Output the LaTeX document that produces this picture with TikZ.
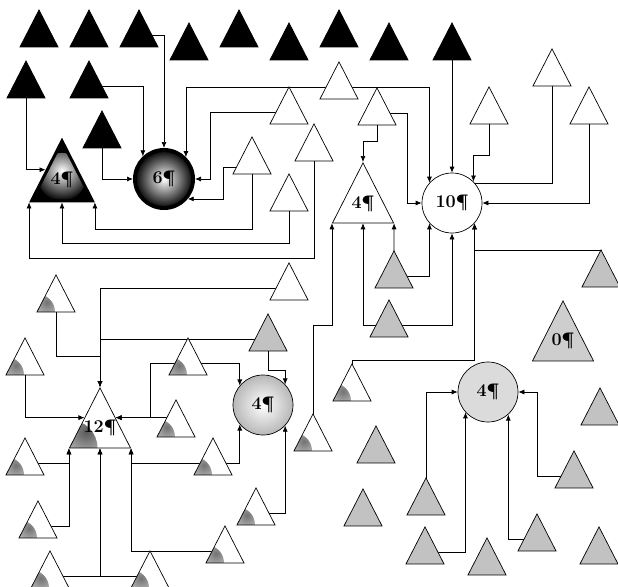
\documentclass[tikz,border=0pt]{standalone}
\definecolor{ScanGray}{gray}{0.76}
\definecolor{PaleGray}{gray}{0.86}
\usetikzlibrary{arrows.meta,shapes.geometric,backgrounds}

\begin{document}
\begin{tikzpicture}[x=1pt,y=-1pt,
  tri/.style={isosceles triangle,isosceles triangle stretches,
              shape border rotate=90,minimum width=38pt,minimum height=37pt,
              inner sep=0pt,anchor=apex,draw=black,line width=0.7pt},
  blk/.style={tri,fill=black},
  wht/.style={tri,fill=white},
  gry/.style={tri,fill=ScanGray},
  shd/.style={tri,fill=white,path picture={\shade[inner color=black!55,
              outer color=white](path picture bounding box.south west)
              circle (18pt);}},
  big/.style={minimum width=61pt,minimum height=60pt,
              font=\bfseries\fontsize{18pt}{18pt}\selectfont},
  ring/.style={circle,draw=black,line width=0.7pt,minimum size=60pt,
               inner sep=0pt,font=\bfseries\fontsize{18pt}{18pt}\selectfont},
  link/.style={-{Latex[length=6pt,width=5pt]},line width=0.7pt}]
  \useasboundingbox (0,0) rectangle (618,586);

  \node[blk] (b1) at (39,9) {};
  \node[blk] (b2) at (89,9) {};
  \node[blk] (b3) at (139,9) {};
  \node[blk] (b4) at (189,22) {};
  \node[blk] (b5) at (239,9) {};
  \node[blk] (b6) at (289,22) {};
  \node[blk] (b7) at (339,9) {};
  \node[blk] (b8) at (389,22) {};
  \node[blk] (b9) at (452,22) {};
  \node[blk] (b10) at (26,60) {};
  \node[blk] (b11) at (89,60) {};
  \node[blk] (b12) at (102,110) {};

  \node[wht] (w1) at (339,61) {};
  \node[wht] (w2) at (289,86) {};
  \node[wht] (w3) at (377,87) {};
  \node[wht] (w4) at (314,123) {};
  \node[wht] (w5) at (252,136) {};
  \node[wht] (w6) at (289,173) {};
  \node[wht] (w7) at (552,48) {};
  \node[wht] (w8) at (489,86) {};
  \node[wht] (w9) at (589,86) {};
  \node[wht] (w10) at (289,262) {};

  \node[gry] (g1) at (268,313) {};
  \node[gry] (g2) at (394,250) {};
  \node[gry] (g3) at (389,299) {};
  \node[gry] (g4) at (601,249) {};
  \node[gry] (g5) at (376,425) {};
  \node[gry] (g6) at (600,387) {};
  \node[gry] (g7) at (363,488) {};
  \node[gry] (g8) at (426,477) {};
  \node[gry] (g9) at (574,450) {};
  \node[gry] (g10) at (425,526) {};
  \node[gry] (g11) at (487,537) {};
  \node[gry] (g12) at (537,513) {};
  \node[gry] (g13) at (599,526) {};

  \node[shd] (s1) at (56,274) {};
  \node[shd] (s2) at (25,337) {};
  \node[shd] (s3) at (188,337) {};
  \node[shd] (s4) at (176,399) {};
  \node[shd] (s5) at (25,437) {};
  \node[shd] (s6) at (213,437) {};
  \node[shd] (s7) at (38,500) {};
  \node[shd] (s8) at (256,487) {};
  \node[shd] (s9) at (225,525) {};
  \node[shd] (s10) at (50,550) {};
  \node[shd] (s11) at (150,550) {};
  \node[shd] (s12) at (313,413) {};
  \node[shd] (s13) at (352,363) {};

  \node[tri,big,line width=3pt,fill=black,
        path picture={\shade[inner color=white,outer color=black]
        ([yshift=-6pt]path picture bounding box.center) circle (24pt);}]
       (t4a) at (62,137) {\raisebox{6pt}[\height][\depth]{4¶}};
  \node[wht,big] (t4b) at (363,162) {\raisebox{4pt}[\height][\depth]{4¶}};
  \node[shd,big,path picture={\shade[inner color=black!65,outer color=white]
        (path picture bounding box.south west) circle (28pt);}]
       (t12) at (100,387) {\raisebox{8pt}[\height][\depth]{12¶}};
  \node[gry,big,fill=ScanGray!80] (t0) at (563,300)
       {\raisebox{5pt}[\height][\depth]{0¶}};

  \node[ring,line width=3pt,minimum size=59pt,fill=black,
        path picture={\shade[inner color=white,outer color=black]
        (path picture bounding box.center) circle (27pt);}]
       (c6) at (164,179) {6¶};
  \node[ring,fill=white] (c10) at (452,203) {10¶};
  \node[ring,inner color=white,outer color=black!28] (c4a) at (263,405) {4¶};
  \node[ring,fill=PaleGray] (c4b) at (488,392) {4¶};

  \begin{scope}[on background layer]
  \draw[link] (b3.center) -| (c6.north);
  \draw[link] (b11.center) -| (c6.133);
  \draw[link] (w1.center) -| (c6.45);
  \draw[link] (b12.center) |- (c6.west);
  \draw[link] (w2.center) -| ([xshift=15pt]c6.east) -- (c6.east);
  \draw[link] ([yshift=-5pt]w5.center) -| ([xshift=36pt]c6.-40) -- (c6.-40);

  \draw[link] (w1.center) -| (c10.138);
  \draw[link] (b9.center) -- (c10.north);
  \draw[link] (w3.center) -| ([xshift=-14pt]c10.west) -- (c10.west);
  \draw[link] (w7.center) -- ++(0,109) -| (c10.45);
  \draw[link] (w8.center) -- ++(0,43) -| (c10.45);
  \draw[link] (w9.center) |- (c10.east);
  \draw[link] (g2.center) -| (c10.222);
  \draw[link] (g3.center) -| (c10.south);
  \draw[link] (s13.center) -- ++(0,-29) -| (c10.318);
  \draw[link] (g4.center) -- ++(0,-25) -| (c10.318);

  \draw[link] (w3.center) -- ++(0,28) -| (t4b.apex);
  \draw[link] (g2.center) -- (t4b.right corner);
  \draw[link] (g3.center) -| (t4b.lower side);
  \draw[link] (s12.center) -- ++(0,-114) -| (t4b.left corner);

  \draw[link] (b10.center) |- (t4a.left side);
  \draw[link] (w6.center) -- ++(0,44) -| (t4a.lower side);
  \draw[link] (w5.center) -- ++(0,67) -| (t4a.right corner);
  \draw[link] (w4.center) -- ++(0,109) -| (t4a.left corner);

  \draw[link] (w10.center) -| (t12.apex);
  \draw[link] (g1.center) -| (t12.apex);
  \draw[link] (s1.center) -- ++(0,56) -| (t12.apex);
  \draw[link] (s2.center) |- (t12.left side);
  \draw[link] (s4.center) |- (t12.right side);
  \draw[link] (s3.center) -| ([xshift=35pt]t12.right side) -- (t12.right side);
  \draw[link] (s5.center) -| (t12.left corner);
  \draw[link] (s7.center) -| (t12.left corner);
  \draw[link] (s6.center) -| (t12.right corner);
  \draw[link] (s9.center) -| (t12.right corner);
  \draw[link] (s10.center) -| (t12.lower side);
  \draw[link] (s11.center) -| (t12.lower side);

  \draw[link] (s3.center) -| (c4a.140);
  \draw[link] (g1.center) -- ++(0,31) -| (c4a.43);
  \draw[link] (s6.center) -| (c4a.220);
  \draw[link] (s8.center) -| (c4a.317);

  \draw[link] (g8.center) |- (c4b.west);
  \draw[link] (g10.center) -| (c4b.222);
  \draw[link] (g12.center) -| (c4b.312);
  \draw[link] (g9.center) -| ([xshift=19pt]c4b.east) -- (c4b.east);
  \end{scope}
\end{tikzpicture}
\end{document}
